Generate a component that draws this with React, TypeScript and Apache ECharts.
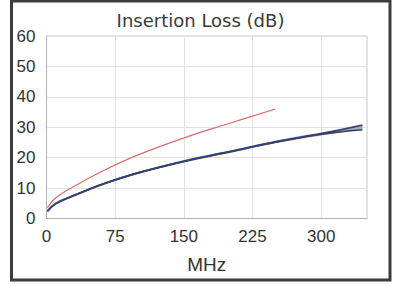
import React, { useEffect, useRef } from "react";
import * as echarts from "echarts";

const freqGroup = [1, 10, 31.25, 62.5, 100, 155, 200, 250, 300, 345];
const navy = [2.4, 4.9, 7.7, 11.4, 15.0, 19.2, 22.0, 25.2, 27.9, 30.7];
const khaki = [2.3, 4.8, 7.6, 11.3, 14.9, 19.0, 21.8, 25.0, 27.6, 30.1];
const lightBlue = [2.5, 5.0, 7.8, 11.5, 15.1, 19.3, 22.1, 25.3, 28.0, 29.6];
const black = [2.4, 4.9, 7.7, 11.4, 15.0, 19.1, 21.9, 25.1, 27.7, 29.2];

const freqRed = [1, 10, 31.25, 62.5, 100, 155, 200, 250];
const red = [3.6, 6.8, 10.8, 15.8, 20.9, 27.0, 31.3, 36.0];

const xTicks = [0, 75, 150, 225, 300];
const yTicks = [0, 10, 20, 30, 40, 50, 60];

const FONT = "Liberation Sans, Arial, sans-serif";
const TITLE_FONT = "DejaVu Sans, Verdana, sans-serif";

function pairs(xs: number[], ys: number[]) {
  return xs.map((x, i) => [x, ys[i]]);
}

export default function App() {
  const ref = useRef<HTMLDivElement>(null);
  useEffect(() => {
    if (!ref.current) return;
    const chart = echarts.init(ref.current, undefined, { renderer: "svg" });
    const line = (name: string, data: number[][], color: string, width: number) => ({
      name,
      type: "line",
      data,
      smooth: 0.4,
      showSymbol: false,
      lineStyle: { color, width },
      z: 3,
    });
    chart.setOption({
      animation: false,
      backgroundColor: "#ffffff",
      title: {
        text: "Insertion Loss (dB)",
        left: "center",
        top: 6,
        textStyle: { fontFamily: TITLE_FONT, fontSize: 18, fontWeight: "normal", color: "#3a3a3a" },
      },
      grid: { left: 46.5, right: 34, top: 36, bottom: 67.5, show: true, borderColor: "#c8c8c8", borderWidth: 1 },
      xAxis: {
        type: "value",
        min: 0,
        max: 350,
        interval: 75,
        name: "MHz",
        nameLocation: "middle",
        nameGap: 36,
        nameTextStyle: { fontFamily: FONT, fontSize: 19, color: "#333" },
        axisLine: { show: true, lineStyle: { color: "#b0b0b0" } },
        axisTick: { show: false },
        splitLine: { show: true, lineStyle: { color: "#e2e2e2" } },
        axisLabel: {
          fontFamily: FONT,
          fontSize: 17,
          color: "#333",
          margin: 9,
          showMaxLabel: false,
          formatter: (v: number) => (xTicks.includes(v) ? String(v) : ""),
        },
      },
      yAxis: {
        type: "value",
        min: 0,
        max: 60,
        interval: 10,
        axisLine: { show: true, lineStyle: { color: "#b0b0b0" } },
        axisTick: { show: false },
        splitLine: { show: true, lineStyle: { color: "#e2e2e2" } },
        axisLabel: {
          fontFamily: FONT,
          fontSize: 17,
          color: "#333",
          margin: 11,
          formatter: (v: number) => (yTicks.includes(v) ? String(v) : ""),
        },
      },
      series: [
        line("red", pairs(freqRed, red), "#e06a6a", 1.2),
        line("khaki", pairs(freqGroup, khaki), "#b9ab82", 1.8),
        line("lightBlue", pairs(freqGroup, lightBlue), "#93b3d6", 1.8),
        line("black", pairs(freqGroup, black), "#3a3a3a", 1.6),
        line("navy", pairs(freqGroup, navy), "#34407a", 1.6),
      ],
      graphic: [
        {
          type: "rect",
          shape: { x: 11.5, y: 1, width: 378.5, height: 279 },
          style: { fill: "none", stroke: "#3c3c3c", lineWidth: 3 },
          silent: true,
        },
      ],
    });
    return () => chart.dispose();
  }, []);
  return (
    <div
      ref={ref}
      style={{ position: "fixed", left: 0, top: 0, width: 401, height: 286, background: "#fff" }}
    />
  );
}
